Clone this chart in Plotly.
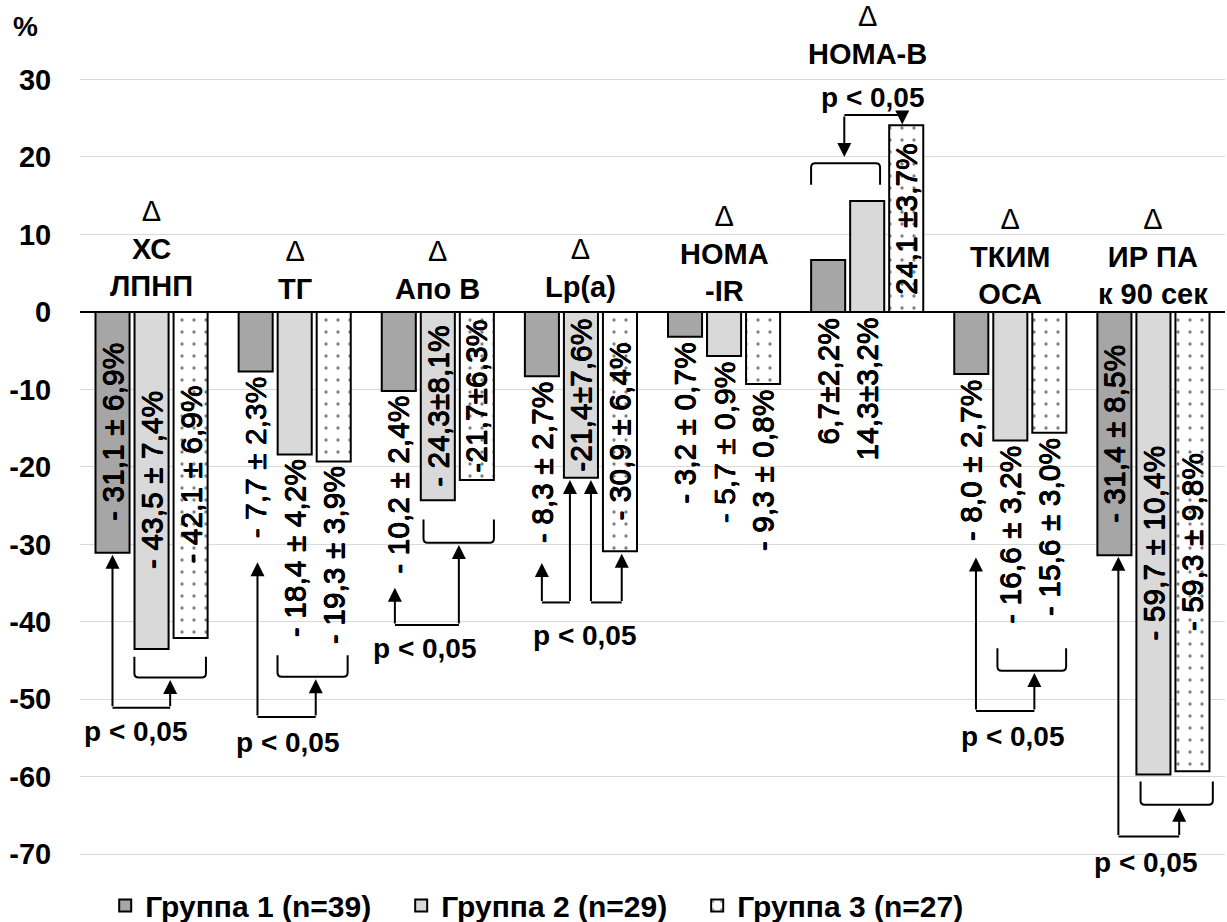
import plotly.graph_objects as go

# ---------------- data ----------------
categories = ["ХС ЛПНП", "ТГ", "Апо В", "Lp(a)", "HOMA-IR", "HOMA-B", "ТКИМ ОСА", "ИР ПА к 90 сек"]
cat_labels = [
    "Δ<br><b>ХС</b><br><b>ЛПНП</b>",
    "Δ<br><b>ТГ</b>",
    "Δ<br><b>Апо В</b>",
    "Δ<br><b>Lp(a)</b>",
    "Δ<br><b>HOMA</b><br><b>-IR</b>",
    "Δ<br><b>HOMA-B</b>",
    "Δ<br><b>ТКИМ</b><br><b>ОСА</b>",
    "Δ<br><b>ИР ПА</b><br><b>к 90 сек</b>",
]
series_names = ["Группа 1 (n=39)", "Группа 2 (n=29)", "Группа 3 (n=27)"]

group1 = [-31.1, -7.7, -10.2, -8.3, -3.2, 6.7, -8.0, -31.4]
group2 = [-43.5, -18.4, -24.3, -21.4, -5.7, 14.3, -16.6, -59.7]
group3 = [-42.1, -19.3, -21.7, -30.9, -9.3, 24.1, -15.6, -59.3]

labels1 = ["- 31,1 ± 6,9%", "- 7,7 ± 2,3%", "- 10,2 ± 2,4%", "- 8,3 ± 2,7%",
           "- 3,2 ± 0,7%", "6,7±2,2%", "- 8,0 ± 2,7%", "- 31,4 ± 8,5%"]
labels2 = ["- 43,5 ± 7,4%", "- 18,4 ± 4,2%", "- 24,3±8,1%", "-21,4±7,6%",
           "- 5,7 ± 0,9%", "14,3±3,2%", "- 16,6 ± 3,2%", "- 59,7 ± 10,4%"]
labels3 = ["- 42,1 ± 6,9%", "- 19,3 ± 3,9%", "-21,7±6,3%", "- 30,9 ± 6,4%",
           "- 9,3 ± 0,8%", "24,1 ±3,7%", "- 15,6 ± 3,0%", "- 59,3 ± 9,8%"]

y_ticks = [-70, -60, -50, -40, -30, -20, -10, 0, 10, 20, 30]
p_text = "<b>p < 0,05</b>"

# ---------------- layout helpers (positions / styles) ----------------
place1 = ["in", "out", "out", "out", "out", "zero", "out", "in"]
place2 = ["in", "out", "in", "in", "out", "zero", "out", "in"]
place3 = ["in", "out", "in", "in", "out", "in", "out", "in"]

FONT = "Liberation Sans, Arial, sans-serif"
BAR_W = 0.238
STEP = 0.2727
x_idx = list(range(len(categories)))
HEAVY = "0.4px 0 0 black, -0.4px 0 0 black, 0 0.4px 0 black, 0 -0.4px 0 black"

fig = go.Figure()
styles = [
    dict(color="#a6a6a6", line=dict(color="black", width=2)),
    dict(color="#d9d9d9", line=dict(color="black", width=2)),
    dict(color="white", line=dict(color="black", width=2),
         pattern=dict(shape=".", fgcolor="black", bgcolor="white", size=12, solidity=0.06)),
]
for j, (vals, name) in enumerate(zip([group1, group2, group3], series_names)):
    fig.add_trace(go.Bar(
        x=x_idx, y=vals, name=name, width=BAR_W,
        offset=(j - 1) * STEP - BAR_W / 2,
        marker=styles[j], hoverinfo="skip",
    ))

annotations = []
shapes = []

# value labels
for j, (vals, labs, places) in enumerate(zip([group1, group2, group3],
                                             [labels1, labels2, labels3],
                                             [place1, place2, place3])):
    for i, (v, lab, pl) in enumerate(zip(vals, labs, places)):
        xx = i + (j - 1) * STEP
        if pl == "in":
            yy, ya, ys = v / 2, "middle", 0
        elif pl == "out":
            yy, ya, ys = v, "top", -3
        else:
            yy, ya, ys = 0, "top", -4
        annotations.append(dict(
            x=xx, y=yy, xref="x", yref="y", text=lab, textangle=-90,
            showarrow=False, xanchor="center", yanchor=ya, yshift=ys,
            font=dict(family=FONT, size=30, color="black", shadow=HEAVY),
        ))

# category labels
cat_y = [0, 0, 0, 0, 0, 31.0, 0, 0]
cat_shift = [8, 5, 5, 7, 3, 0, 0, 0]
for i, (lab, yy, ys) in enumerate(zip(cat_labels, cat_y, cat_shift)):
    annotations.append(dict(
        x=i, y=yy, xref="x", yref="y", text=lab, showarrow=False,
        xanchor="center", yanchor="bottom", yshift=ys,
        font=dict(family=FONT, size=29, color="black"),
    ))

# p-value labels
p_pos = [(-0.11, -54.1), (0.95, -55.6), (1.91, -43.4), (3.03, -41.7),
         (5.04, 27.7), (6.02, -54.8), (6.95, -71.1)]
for (xx, yy) in p_pos:
    annotations.append(dict(
        x=xx, y=yy, xref="x", yref="y", text=p_text, showarrow=False,
        xanchor="center", yanchor="middle",
        font=dict(family=FONT, size=28, color="black"),
    ))

LINE = dict(color="black", width=2)
RX, RY = 0.03, 0.55   # bracket corner rounding (data units)


def bracket(x0, x1, y_edge, y_base):
    s = 1 if y_edge > y_base else -1
    path = (f"M {x0},{y_edge} L {x0},{y_base + s * RY} Q {x0},{y_base} {x0 + RX},{y_base} "
            f"L {x1 - RX},{y_base} Q {x1},{y_base} {x1},{y_base + s * RY} L {x1},{y_edge}")
    shapes.append(dict(type="path", xref="x", yref="y", line=LINE, path=path))


def arrow(x, y_from, y_to):
    annotations.append(dict(
        x=x, y=y_to, ax=x, ay=y_from, xref="x", yref="y", axref="x", ayref="y",
        text="", showarrow=True, arrowhead=2, arrowsize=1.4, arrowwidth=2,
        arrowcolor="black", standoff=0, startstandoff=0,
    ))


def elbow(xa, xb, y_base, ya_tip, yb_tip):
    shapes.append(dict(type="line", xref="x", yref="y", line=LINE,
                       x0=xa, x1=xb, y0=y_base, y1=y_base))
    arrow(xa, y_base, ya_tip)
    arrow(xb, y_base, yb_tip)


# ХС ЛПНП
bracket(-0.12, 0.38, -44.5, -47.2)
elbow(-0.273, 0.13, -51.1, -31.35, -47.5)
# ТГ
bracket(0.88, 1.37, -44.3, -47.1)
elbow(0.74, 1.147, -52.3, -32.3, -47.4)
# Апо В
bracket(1.90, 2.392, -26.8, -29.8)
elbow(1.70, 2.147, -40.4, -35.6, -30.1)
# Lp(a)
elbow(2.727, 2.923, -37.5, -32.4, -21.7)
elbow(3.07, 3.285, -37.5, -21.7, -31.2)
# HOMA-B (bracket above, arrows downward)
bracket(4.608, 5.09, 16.4, 19.2)
elbow(4.84, 5.245, 25.4, 20.0, 24.2)
# ТКИМ ОСА
bracket(5.91, 6.39, -43.4, -46.3)
elbow(5.76, 6.168, -51.5, -31.7, -46.6)
# ИР ПА
bracket(6.91, 7.415, -60.6, -63.6)
elbow(6.755, 7.18, -67.7, -31.6, -64.0)

# zero line above bars
shapes.append(dict(type="line", xref="paper", yref="y", x0=0, x1=1, y0=0, y1=0,
                   line=dict(color="black", width=2), layer="above"))

# "%" axis title
annotations.append(dict(
    x=-0.048, y=0.972, xref="paper", yref="paper", text="<b>%</b>", showarrow=False,
    xanchor="center", yanchor="middle", font=dict(family=FONT, size=28, color="black"),
))

fig.update_layout(
    width=1227, height=922,
    margin=dict(l=80, r=2, t=2, b=29, autoexpand=False),
    paper_bgcolor="white", plot_bgcolor="white",
    barmode="overlay",
    showlegend=True,
    legend=dict(orientation="h", x=0.022, y=-0.014, xanchor="left", yanchor="middle",
                font=dict(family=FONT, size=30, color="black", weight="bold"),
                entrywidth=251, itemwidth=30, bgcolor="rgba(0,0,0,0)"),
    xaxis=dict(range=[-0.5, 7.5], showticklabels=False, showgrid=False,
               zeroline=False, showline=False, ticks=""),
    yaxis=dict(range=[-75, 40], tickvals=y_ticks, ticktext=[str(t) for t in y_ticks],
               showgrid=True, gridcolor="#d9d9d9", gridwidth=1, zeroline=False,
               showline=False, ticks="outside", ticklen=22, tickcolor="rgba(0,0,0,0)",
               tickfont=dict(family=FONT, size=29, color="black", weight="bold")),
    annotations=annotations,
    shapes=shapes,
)

fig.write_html("out.html")
